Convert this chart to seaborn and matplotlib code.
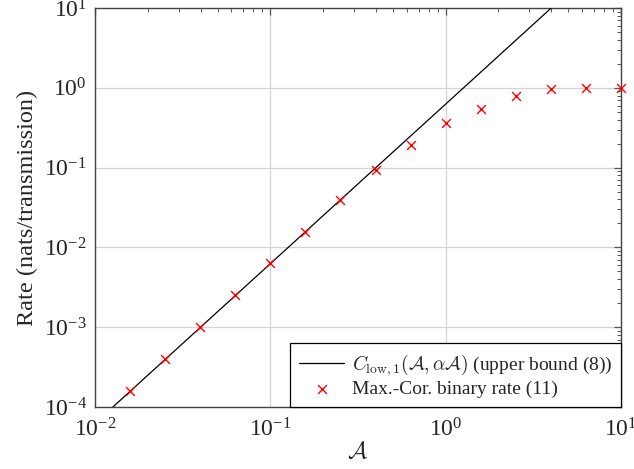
import numpy as np
import pandas as pd
import matplotlib
matplotlib.use("Agg")
import matplotlib.pyplot as plt
import seaborn as sns
from matplotlib.ticker import LogLocator, NullFormatter

# Data
bound_A = [0.01, 10.0]
bound_rate = [6.25e-5, 62.5]
marker_A = [0.0158, 0.0251, 0.0398, 0.0631, 0.1, 0.158, 0.251, 0.398, 0.631,
            1.0, 1.585, 2.51, 3.98, 6.31, 10.0]
marker_rate = [1.58e-4, 4.0e-4, 1.0e-3, 2.5e-3, 6.3e-3, 1.58e-2, 3.9e-2, 0.092,
               0.19, 0.36, 0.55, 0.80, 0.97, 1.0, 1.0]
bound_label = r"$C_{\mathrm{low},1}(\mathcal{A},\alpha\mathcal{A})$ (upper bound (8))"
marker_label = "Max.-Cor. binary rate (11)"

sns.set_style("white")
plt.rcParams['font.family'] = ['Liberation Serif', 'DejaVu Serif']
plt.rcParams['mathtext.fontset'] = 'cm'

fig = plt.figure(figsize=(6.34, 4.69), dpi=100)
ax = fig.add_axes([95/634, 1-407/469, (621-95)/634, (407-8)/469])

df_b = pd.DataFrame({"A": bound_A, "R": bound_rate})
df_m = pd.DataFrame({"A": marker_A, "R": marker_rate})

sns.lineplot(data=df_b, x="A", y="R", ax=ax, color="black", linewidth=0.9,
             label=bound_label, zorder=3)
sns.scatterplot(data=df_m, x="A", y="R", ax=ax, marker="x", color="red", s=40,
                linewidth=1.0, label=marker_label, zorder=4, clip_on=False)

ax.set_xscale("log")
ax.set_yscale("log")
ax.set_xlim(1e-2, 1e1)
ax.set_ylim(1e-4, 1e1)

ax.grid(True, which="major", color="#d3d3d3", linewidth=0.9)
ax.xaxis.set_minor_locator(LogLocator(base=10, subs=np.arange(2, 10)))
ax.yaxis.set_minor_locator(LogLocator(base=10, subs=np.arange(2, 10)))
ax.xaxis.set_minor_formatter(NullFormatter())
ax.yaxis.set_minor_formatter(NullFormatter())
ax.tick_params(which="both", direction="in", top=True, right=True,
               color="#555555", labelsize=17)
ax.tick_params(axis="x", which="both", pad=8)
ax.tick_params(axis="y", which="both", pad=6)
ax.tick_params(which="major", length=5, width=0.9)
ax.tick_params(which="minor", length=3, width=0.7)
for s in ax.spines.values():
    s.set_color("#444444")
    s.set_linewidth(1.0)

ax.set_xlabel(r"$\mathcal{A}$", fontsize=17, labelpad=0)
ax.set_ylabel("Rate (nats/transmission)", fontsize=17.5, labelpad=4)

leg = ax.legend(loc="lower right", borderaxespad=0, fontsize=14, frameon=True,
                fancybox=False, edgecolor="black", framealpha=1,
                handlelength=2.3, handletextpad=0.4, labelspacing=0.15,
                borderpad=0.45)
leg.get_frame().set_linewidth(0.9)

fig.savefig("out.png", dpi=100)
